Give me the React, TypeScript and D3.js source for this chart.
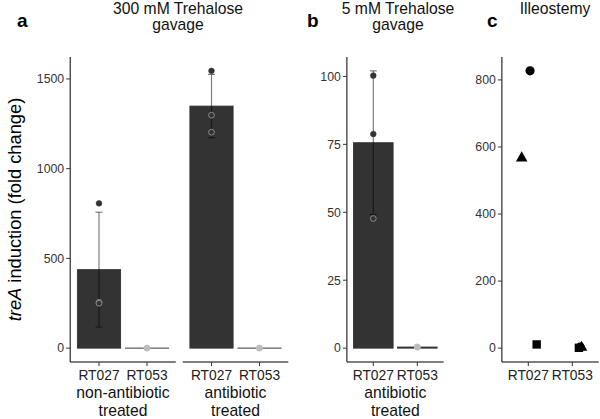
import React from "react";
import * as d3 from "d3";

// ---------- data ----------
const strains = ["RT027", "RT053"];

// Panel a: 300 mM trehalose gavage
const groupLabels = [
  ["non-antibiotic", "treated"],
  ["antibiotic", "treated"],
];
const nonAbxRT027 = [807, 255, 250];
const nonAbxRT053 = [0.3, 0.2, 0.4];
const abxRT027 = [1545, 1298, 1203];
const abxRT053 = [0.5, 0.3, 0.2];
const panelATicks = [0, 500, 1000, 1500];

// Panel b: 5 mM trehalose gavage
const lowGroupLabel = ["antibiotic", "treated"];
const lowRT027 = [100.3, 78.8, 47.7];
const lowRT053 = [0.5, 0.4, 0.3];
const panelBTicks = [0, 25, 50, 75, 100];

// Panel c: ileostomy
const ileoRT027 = [827, 567, 11];
const ileoRT053 = [3, 2, 1];
const ileoShapes = ["circle", "triangle", "square"];
const ileoJitter027 = [0.04, -0.15, 0.19];
const ileoJitter053 = [0.18, 0.21, 0.15];
const panelCTicks = [0, 200, 400, 600, 800];

const titles = [
  { letter: "a", lines: ["300 mM Trehalose", "gavage"] },
  { letter: "b", lines: ["5 mM Trehalose", "gavage"] },
  { letter: "c", lines: ["Illeostemy"] },
];

// ---------- layout ----------
const W = 600;
const H = 419;
const top = 57;
const bottom = 362;
const FONT = "'Liberation Sans', Arial, Helvetica, sans-serif";
const BAR = "#333333";

function stats(v: number[]) {
  const m = d3.mean(v) as number;
  const s = d3.deviation(v) as number;
  return { m, s };
}

function xScale(x0: number, x1: number) {
  return d3.scalePoint<string>().domain(strains).range([x0, x1]).padding(0.6);
}

function YAxis({ x, y, ticks }: { x: number; y: d3.ScaleLinear<number, number>; ticks: number[] }) {
  return (
    <g>
      <line x1={x} x2={x} y1={top} y2={bottom} stroke="#000" strokeWidth={1} />
      {ticks.map((t) => (
        <g key={t}>
          <line x1={x - 4} x2={x} y1={y(t)} y2={y(t)} stroke="#333" strokeWidth={1} />
          <text x={x - 6} y={y(t)} dy="0.35em" textAnchor="end" fontSize={12.3} fill="#333" fontFamily={FONT}>
            {t}
          </text>
        </g>
      ))}
    </g>
  );
}

function XAxis({ x, x0, x1, labels }: { x: d3.ScalePoint<string>; x0: number; x1: number; labels?: string[] }) {
  return (
    <g>
      <line x1={x0} x2={x1} y1={bottom} y2={bottom} stroke="#000" strokeWidth={1} />
      {strains.map((s) => (
        <g key={s}>
          <line x1={x(s)} x2={x(s)} y1={bottom} y2={bottom + 4} stroke="#333" strokeWidth={1} />
          <text x={x(s)} y={380} textAnchor="middle" fontSize={13.8} fill="#222" fontFamily={FONT}>
            {s}
          </text>
        </g>
      ))}
      {labels &&
        labels.map((l, i) => (
          <text
            key={i}
            x={(x0 + x1) / 2}
            y={398 + i * 18}
            textAnchor="middle"
            fontSize={15.7}
            fill="#111"
            fontFamily={FONT}
          >
            {l}
          </text>
        ))}
    </g>
  );
}

function BarGroup({
  x,
  y,
  series,
}: {
  x: d3.ScalePoint<string>;
  y: d3.ScaleLinear<number, number>;
  series: number[][];
}) {
  const bw = x.step() * 0.9;
  return (
    <g>
      {series.map((vals, i) => {
        const cx = x(strains[i]) as number;
        const { m, s } = stats(vals);
        const y0 = y(0);
        const ym = y(m);
        return (
          <g key={i}>
            <rect
              x={cx - bw / 2}
              y={Math.min(ym, y0)}
              width={bw}
              height={Math.max(Math.abs(y0 - ym), 0.01)}
              fill={BAR}
              stroke={BAR}
              strokeWidth={0.9}
            />
            {m > 5 && (
              <g stroke="#000" strokeOpacity={0.5} strokeWidth={1.2}>
                <line x1={cx} x2={cx} y1={y(m + s)} y2={y(m - s)} />
                <line x1={cx - 3.5} x2={cx + 3.5} y1={y(m + s)} y2={y(m + s)} />
                <line x1={cx - 3.5} x2={cx + 3.5} y1={y(m - s)} y2={y(m - s)} />
              </g>
            )}
            {vals.map((v, j) => {
              const inside = v < m && m > 5;
              const zero = m <= 5;
              return (
                <circle
                  key={j}
                  cx={cx}
                  cy={y(v)}
                  r={2.9}
                  fill={zero ? "#bdbdbd" : "#333"}
                  stroke={inside ? "#8a8a8a" : zero ? "#bdbdbd" : "#333"}
                  strokeWidth={inside ? 1 : 0.5}
                  fillOpacity={zero ? 0.9 : 1}
                />
              );
            })}
          </g>
        );
      })}
    </g>
  );
}

function Shape({ kind, cx, cy }: { kind: string; cx: number; cy: number }) {
  if (kind === "circle") return <circle cx={cx} cy={cy} r={4.6} fill="#000" />;
  if (kind === "square") return <rect x={cx - 4.2} y={cy - 4.2} width={8.4} height={8.4} fill="#000" />;
  const sym = d3.symbol().type(d3.symbolTriangle).size(58)();
  return <path d={sym as string} transform={`translate(${cx},${cy})`} fill="#000" />;
}

export default function App() {
  // panel a
  const a1 = [70.2, 175.8];
  const a2 = [182.7, 288.3];
  const xa1 = xScale(a1[0], a1[1]);
  const xa2 = xScale(a2[0], a2[1]);
  const maxA = d3.max([...nonAbxRT027, ...abxRT027]) as number;
  const yA = d3.scaleLinear().domain([-maxA * 0.05, maxA * 1.05]).range([bottom, top]);

  // panel b
  const b = [346.9, 443.7];
  const xb = xScale(b[0], b[1]);
  const sb = stats(lowRT027);
  const maxB = sb.m + sb.s;
  const yB = d3.scaleLinear().domain([-maxB * 0.05, maxB * 1.05]).range([bottom, top]);

  // panel c
  const c = [501.9, 598.7];
  const xc = xScale(c[0], c[1]);
  const maxC = d3.max(ileoRT027) as number;
  const yC = d3.scaleLinear().domain([-maxC * 0.05, maxC * 1.05]).range([bottom, top]);

  const titleX = [178, 398, 555];
  const letterX = [17, 307, 487];

  return (
    <svg width={W} height={H} style={{ position: "absolute", left: 0, top: 0, background: "#fff" }}>
      <rect width={W} height={H} fill="#fff" />
      {/* y axis title */}
      <text
        transform={`translate(21,${(top + bottom) / 2}) rotate(-90)`}
        textAnchor="middle"
        fontSize={18.3}
        fill="#000"
        fontFamily={FONT}
      >
        <tspan fontStyle="italic">treA</tspan>
        <tspan> induction (fold change)</tspan>
      </text>

      {/* titles */}
      {titles.map((t, i) => (
        <g key={t.letter}>
          <text x={letterX[i]} y={27} fontSize={19} fontWeight="bold" fontFamily={FONT} fill="#000">
            {t.letter}
          </text>
          {t.lines.map((l, k) => (
            <text
              key={k}
              x={titleX[i]}
              y={13.5 + k * 16}
              textAnchor="middle"
              fontSize={15.7}
              fontFamily={FONT}
              fill="#111"
            >
              {l}
            </text>
          ))}
        </g>
      ))}

      {/* panel a */}
      <YAxis x={a1[0]} y={yA} ticks={panelATicks} />
      <XAxis x={xa1} x0={a1[0]} x1={a1[1]} labels={groupLabels[0]} />
      <XAxis x={xa2} x0={a2[0]} x1={a2[1]} labels={groupLabels[1]} />
      <BarGroup x={xa1} y={yA} series={[nonAbxRT027, nonAbxRT053]} />
      <BarGroup x={xa2} y={yA} series={[abxRT027, abxRT053]} />

      {/* panel b */}
      <YAxis x={b[0]} y={yB} ticks={panelBTicks} />
      <XAxis x={xb} x0={b[0]} x1={b[1]} labels={lowGroupLabel} />
      <BarGroup x={xb} y={yB} series={[lowRT027, lowRT053]} />

      {/* panel c */}
      <YAxis x={c[0]} y={yC} ticks={panelCTicks} />
      <XAxis x={xc} x0={c[0]} x1={c[1]} />
      {[ileoRT027, ileoRT053].map((vals, i) =>
        vals.map((v, j) => {
          const jit = (i === 0 ? ileoJitter027 : ileoJitter053)[j];
          const cx = (xc(strains[i]) as number) + jit * xc.step();
          return <Shape key={`${i}-${j}`} kind={ileoShapes[j]} cx={cx} cy={yC(v)} />;
        })
      )}
    </svg>
  );
}
